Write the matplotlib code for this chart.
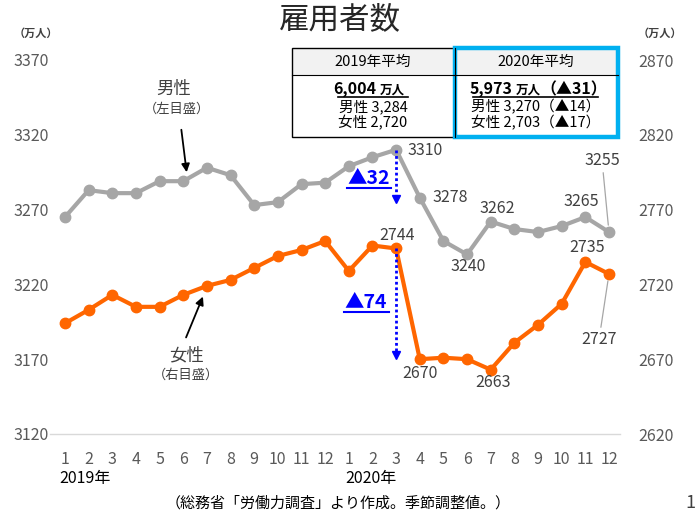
import matplotlib
matplotlib.use('Agg')
import matplotlib.pyplot as plt
from matplotlib.lines import Line2D
from matplotlib.patches import Rectangle

plt.rcParams['font.family'] = ['Noto Sans CJK JP', 'DejaVu Sans']

# ---------------- data ----------------
month_labels = [str(m) for m in range(1, 13)] * 2
year_labels = ['2019年', '2020年']
male = [3265, 3283, 3281, 3281, 3289, 3289, 3298, 3293, 3273, 3275, 3287, 3288,
        3299, 3305, 3310, 3278, 3249, 3240, 3262, 3257, 3255, 3259, 3265, 3255]
female = [2694, 2703, 2713, 2705, 2705, 2713, 2719, 2723, 2731, 2739, 2743, 2749,
          2729, 2746, 2744, 2670, 2671, 2670, 2663, 2681, 2693, 2707, 2735, 2727]
left_ticks = [3120, 3170, 3220, 3270, 3320, 3370]
right_ticks = [2620, 2670, 2720, 2770, 2820, 2870]
male_drop = '▲32'
female_drop = '▲74'
title = '雇用者数'
unit = '（万人）'
footer = '（総務省「労働力調査」より作成。季節調整値。）'
page_no = '1'
tbl_head = ['2019年平均', '2020年平均']
tbl_total = [('6,004', '万人', ''), ('5,973', '万人', '（▲31）')]
tbl_male = ['男性 3,284', '男性 3,270（▲14）']
tbl_female = ['女性 2,720', '女性 2,703（▲17）']

GREY = '#A6A6A6'
ORANGE = '#FF6600'
BLUE = '#0000FF'
TICKC = '#595959'
LBLC = '#404040'

W, H = 696, 515
fig = plt.figure(figsize=(W / 100, H / 100), dpi=100)


def fx(x):
    return x / W


def fy(y):
    return 1 - y / H


ax = fig.add_axes([fx(50), fy(434), (620 - 50) / W, (434 - 60) / H])
xs = list(range(len(male)))
ax.set_xlim(-0.634, 23.466)
ax.set_ylim(left_ticks[0], left_ticks[-1])
ax2 = ax.twinx()
ax2.set_ylim(right_ticks[0], right_ticks[-1])

for a in (ax, ax2):
    for s in a.spines.values():
        s.set_visible(False)
ax.spines['bottom'].set_visible(True)
ax.spines['bottom'].set_color('#D9D9D9')
ax.spines['bottom'].set_linewidth(1)

ax.set_yticks(left_ticks)
ax.set_yticklabels([str(v) for v in left_ticks])
ax.tick_params(axis='y', length=0, pad=1, labelsize=11.5, labelcolor=TICKC)
ax2.set_yticks(right_ticks)
ax2.set_yticklabels([str(v) for v in right_ticks])
ax2.tick_params(axis='y', length=0, pad=13, labelsize=11.5, labelcolor=TICKC)
ax.set_xticks(xs)
ax.set_xticklabels(month_labels)
ax.tick_params(axis='x', length=0, pad=12, labelsize=11.5, labelcolor=TICKC)

ax.plot(xs, male, color=GREY, lw=3, marker='o', ms=7.5, zorder=3)
ax2.plot(xs, female, color=ORANGE, lw=3, marker='o', ms=7.5, zorder=3)

# data labels
def lab(a, i, vals, dx, dy, leader=False):
    kw = {}
    if leader:
        kw['arrowprops'] = dict(arrowstyle='-', color=GREY, lw=0.9,
                                shrinkA=1, shrinkB=5)
    a.annotate(str(vals[i]), (xs[i], vals[i]), xytext=(dx, dy),
               textcoords='offset pixels', ha='center', va='center',
               fontsize=11.5, color=LBLC, zorder=5, **kw)

lab(ax, 14, male, 29, -1)
lab(ax, 15, male, 30, 0)
lab(ax, 17, male, 1, -12)
lab(ax, 18, male, 7, 13)
lab(ax, 22, male, -4, 16)
lab(ax, 23, male, -7, 72, leader=True)
lab(ax2, 14, female, 1, 13)
lab(ax2, 15, female, 0, -14)
lab(ax2, 18, female, 2, -13)
lab(ax2, 22, female, 2, 14)
lab(ax2, 23, female, -10, -66, leader=True)

# dotted drop arrows
ax.plot([xs[14], xs[14]], [male[14], 3278.5], linestyle=(0, (1, 1)), color=BLUE, lw=2, zorder=4)
ax.plot([xs[14]], [3277], marker='v', color=BLUE, ms=6, zorder=4)
ax2.plot([xs[14], xs[14]], [female[14], 2674], linestyle=(0, (1, 1)), color=BLUE, lw=2, zorder=4)
ax2.plot([xs[14]], [2672.5], marker='v', color=BLUE, ms=6, zorder=4)

fig.text(fx(369), fy(179), male_drop, color=BLUE, fontsize=14, fontweight='bold',
         ha='center', va='center')
fig.add_artist(Line2D([fx(347), fx(391)], [fy(188), fy(188)], color=BLUE, lw=1.5))
fig.text(fx(366), fy(302), female_drop, color=BLUE, fontsize=14, fontweight='bold',
         ha='center', va='center')
fig.add_artist(Line2D([fx(344), fx(389)], [fy(312), fy(312)], color=BLUE, lw=1.5))

# series annotations
fig.text(fx(174), fy(89), '男性', fontsize=12.5, color='#404040', ha='center', va='center')
fig.text(fx(177), fy(109), '（左目盛）', fontsize=9.5, color='#404040', ha='center', va='center')
ax.annotate('', xy=(fx(187), fy(175)), xycoords='figure fraction',
            xytext=(fx(181), fy(127)), textcoords='figure fraction',
            arrowprops=dict(arrowstyle='-|>', color='black', lw=1.3, mutation_scale=12))
fig.text(fx(187), fy(355), '女性', fontsize=12.5, color='#404040', ha='center', va='center')
fig.text(fx(186), fy(375), '（右目盛）', fontsize=9.5, color='#404040', ha='center', va='center')
ax.annotate('', xy=(fx(204), fy(294)), xycoords='figure fraction',
            xytext=(fx(185), fy(340)), textcoords='figure fraction',
            arrowprops=dict(arrowstyle='-|>', color='black', lw=1.3, mutation_scale=12))

# title & units
fig.text(fx(340), fy(20), title, fontsize=22, ha='center', va='center', color='#262626')
fig.text(fx(36), fy(33), unit, fontsize=8, fontweight='bold', ha='center', va='center', color='#404040')
fig.text(fx(660), fy(33), unit, fontsize=8, fontweight='bold', ha='center', va='center', color='#404040')

# year labels and footer
fig.text(fx(85), fy(478), year_labels[0], fontsize=11.5, ha='center', va='center')
fig.text(fx(371), fy(478), year_labels[1], fontsize=11.5, ha='center', va='center')
fig.text(fx(338), fy(503), footer, fontsize=10.8, ha='center', va='center')
fig.text(fx(690), fy(503), page_no, fontsize=13, ha='center', va='center', color='#404040')

# summary table
tl, tr, tt, tb, tm, tv = 292, 618, 48, 137, 75, 455
fig.add_artist(Rectangle((fx(tl), fy(tm)), (tr - tl) / W, (tm - tt) / H,
                         transform=fig.transFigure, facecolor='#F2F2F2', edgecolor='none'))
fig.add_artist(Rectangle((fx(tl), fy(tb)), (tr - tl) / W, (tb - tt) / H,
                         transform=fig.transFigure, facecolor='none', edgecolor='black', lw=1))
fig.add_artist(Line2D([fx(tl), fx(tr)], [fy(tm), fy(tm)], color='black', lw=0.8))
fig.add_artist(Line2D([fx(tv), fx(tv)], [fy(tt), fy(tb)], color='black', lw=0.8))
fig.add_artist(Rectangle((fx(455), fy(137)), (618 - 455) / W, (137 - 48) / H,
                         transform=fig.transFigure, facecolor='none', edgecolor='#00B0F0', lw=3.2))

cx = [373, 536]
for k in range(2):
    fig.text(fx(cx[k]), fy(62), tbl_head[k], fontsize=10.5, ha='center', va='center')
    fig.text(fx(cx[k]), fy(107), tbl_male[k], fontsize=10.5, ha='center', va='center')
    fig.text(fx(cx[k]), fy(123), tbl_female[k], fontsize=10.5, ha='center', va='center')

# totals (bold, underlined)
fig.text(fx(376), fy(89), tbl_total[0][0], fontsize=11.5, fontweight='bold', ha='right', va='center')
fig.text(fx(380), fy(90), tbl_total[0][1], fontsize=9, fontweight='bold', ha='left', va='center')
fig.add_artist(Line2D([fx(338), fx(408)], [fy(97), fy(97)], color='black', lw=1.2))
fig.text(fx(512), fy(89), tbl_total[1][0], fontsize=11.5, fontweight='bold', ha='right', va='center')
fig.text(fx(516), fy(90), tbl_total[1][1], fontsize=9, fontweight='bold', ha='left', va='center')
fig.text(fx(540), fy(89), tbl_total[1][2], fontsize=11.5, fontweight='bold', ha='left', va='center')
fig.add_artist(Line2D([fx(473), fx(598)], [fy(97), fy(97)], color='black', lw=1.2))

fig.savefig('out.png', dpi=100)
